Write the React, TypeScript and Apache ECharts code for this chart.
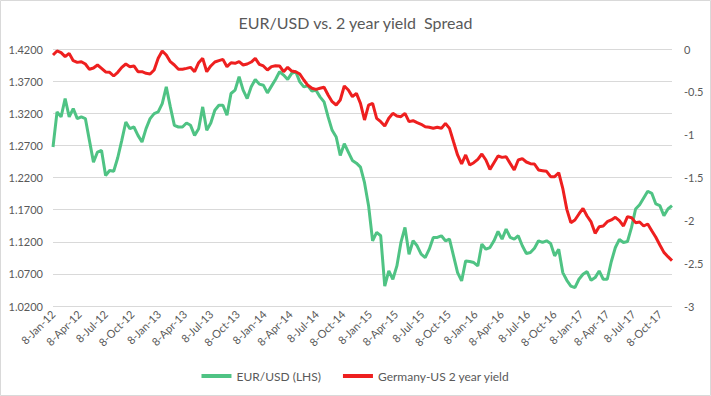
import React, { useEffect, useRef } from "react";
import * as echarts from "echarts";

// Quarterly tick labels on the date axis
const tickLabels = [
  "8-Jan-12", "8-Apr-12", "8-Jul-12", "8-Oct-12",
  "8-Jan-13", "8-Apr-13", "8-Jul-13", "8-Oct-13",
  "8-Jan-14", "8-Apr-14", "8-Jul-14", "8-Oct-14",
  "8-Jan-15", "8-Apr-15", "8-Jul-15", "8-Oct-15",
  "8-Jan-16", "8-Apr-16", "8-Jul-16", "8-Oct-16",
  "8-Jan-17", "8-Apr-17", "8-Jul-17", "8-Oct-17",
];

// EUR/USD, fortnightly observations from 8-Jan-12
const eurUsd = [
  1.2674, 1.3221, 1.3143, 1.3429, 1.3143, 1.3273, 1.3117, 1.3143, 1.3117, 1.2778,
  1.2439, 1.2596, 1.2622, 1.2231, 1.2309, 1.2298, 1.2507, 1.2778, 1.3064, 1.2960,
  1.2986, 1.2856, 1.2752, 1.2960, 1.3117, 1.3195, 1.3221, 1.3351, 1.3611, 1.3299,
  1.3012, 1.2986, 1.2986, 1.3049, 1.3012, 1.2856, 1.2960, 1.3299, 1.2934,
  1.3049, 1.3247, 1.3325, 1.3325, 1.3168, 1.3507, 1.3559, 1.3768, 1.3559, 1.3429,
  1.3611, 1.3726, 1.3653, 1.3637, 1.3517, 1.3622, 1.3726, 1.3846, 1.3794, 1.3726,
  1.3820, 1.3846, 1.3689, 1.3611, 1.3627, 1.3544, 1.3559, 1.3455, 1.3377, 1.3143,
  1.2934, 1.2830, 1.2543, 1.2726, 1.2596, 1.2465, 1.2423, 1.2361, 1.2120,
  1.1762, 1.1215, 1.1345, 1.1293, 1.0511, 1.0746, 1.0616, 1.0824, 1.1189, 1.1423,
  1.1006, 1.1215, 1.1137, 1.1006, 1.0954, 1.1084, 1.1267, 1.1267, 1.1293, 1.1215,
  1.1241, 1.0980, 1.0720, 1.0590, 1.0902, 1.0892, 1.0876, 1.0824, 1.1163, 1.1084,
  1.1110, 1.1215, 1.1360, 1.1241, 1.1397, 1.1267, 1.1241, 1.1293,
  1.1137, 1.1017, 1.1032, 1.1100, 1.1215, 1.1189, 1.1215, 1.1173, 1.0980, 1.1084,
  1.0720, 1.0600, 1.0511, 1.0485, 1.0616, 1.0694, 1.0735, 1.0600, 1.0642, 1.0746,
  1.0616, 1.0616, 1.0892, 1.1110, 1.1236, 1.1189, 1.1204, 1.1423, 1.1710, 1.1777,
  1.1882, 1.1986, 1.1954, 1.1788, 1.1762, 1.1605, 1.1710, 1.1762,
];

// Germany-US 2 year yield spread, same dates
const spread = [
  -0.070, -0.023, -0.043, -0.089, -0.051, -0.136, -0.156, -0.148, -0.175, -0.237,
  -0.222, -0.187, -0.226, -0.268, -0.272, -0.315, -0.272, -0.214, -0.175, -0.206,
  -0.198, -0.265, -0.265, -0.284, -0.292, -0.245, -0.109, -0.023, -0.070, -0.148,
  -0.187, -0.237, -0.237, -0.226, -0.214, -0.265, -0.160, -0.109, -0.265,
  -0.198, -0.152, -0.136, -0.121, -0.206, -0.160, -0.167, -0.148, -0.187, -0.175,
  -0.152, -0.109, -0.179, -0.198, -0.245, -0.206, -0.195, -0.198, -0.265, -0.214,
  -0.257, -0.265, -0.292, -0.362, -0.424, -0.459, -0.471, -0.459, -0.447, -0.537,
  -0.615, -0.654, -0.595, -0.432, -0.479, -0.556, -0.518, -0.634, -0.829,
  -0.654, -0.634, -0.809, -0.848, -0.899, -0.809, -0.751, -0.782, -0.790, -0.751,
  -0.848, -0.837, -0.860, -0.879, -0.907, -0.914, -0.926, -0.914, -0.926, -0.868,
  -0.926, -1.082, -1.237, -1.342, -1.237, -1.354, -1.327, -1.288, -1.226, -1.296,
  -1.405, -1.327, -1.249, -1.265, -1.257, -1.335, -1.412, -1.296,
  -1.280, -1.319, -1.339, -1.342, -1.412, -1.420, -1.428, -1.490, -1.490, -1.444,
  -1.626, -1.872, -2.027, -1.996, -1.926, -1.860, -1.949, -2.019, -2.152, -2.074,
  -2.066, -2.016, -1.996, -1.965, -2.004, -2.066, -1.957, -1.969, -2.027, -2.019,
  -2.066, -2.043, -2.121, -2.198, -2.288, -2.374, -2.424, -2.471,
];

const MONTHS = ["Jan", "Feb", "Mar", "Apr", "May", "Jun", "Jul", "Aug", "Sep", "Oct", "Nov", "Dec"];
const DAY = 86400000;
const START = Date.UTC(2012, 0, 8);
const dayOffset = (s: string) => {
  const [d, m, y] = s.split("-");
  return Math.round((Date.UTC(2000 + Number(y), MONTHS.indexOf(m), Number(d)) - START) / DAY);
};

const BASE = 1.02; // left axis origin
const TEXT = "#595959";
const FONT = "Lato";

export default function App() {
  const ref = useRef<HTMLDivElement>(null);
  useEffect(() => {
    document.body.style.margin = "0";
    if (!ref.current) return;
    const chart = echarts.init(ref.current, undefined, { renderer: "svg" });
    // fortnightly observation days, counted from 8-Jan-12
    const days = eurUsd.map((_, i) => 14 * i);
    const tickValues = tickLabels.map(dayOffset);
    const labelMap: Record<number, string> = {};
    tickValues.forEach((t, i) => (labelMap[t] = tickLabels[i]));

    chart.setOption({
      animation: false,
      graphic: [
        {
          type: "rect",
          shape: { x: 0.5, y: 0.5, width: 710, height: 395 },
          style: { fill: "none", stroke: "#d9d9d9", lineWidth: 1 },
          silent: true,
        },
      ],
      title: {
        text: "EUR/USD vs. 2 year yield  Spread",
        left: "center",
        top: 9,
        textStyle: { fontFamily: FONT, fontSize: 16, fontWeight: "normal", color: TEXT },
      },
      grid: { left: 53, right: 39, top: 49, bottom: 90 },
      legend: {
        top: 365,
        left: "center",
        icon: "rect",
        itemWidth: 30,
        itemHeight: 4,
        itemGap: 22,
        textStyle: { fontFamily: FONT, fontSize: 12, color: TEXT },
      },
      xAxis: {
        type: "value",
        min: 0,
        max: days[days.length - 1],
        axisLine: { show: false },
        axisTick: { show: false },
        splitLine: { show: false },
        axisLabel: {
          customValues: tickValues,
          rotate: 45,
          margin: 6,
          fontFamily: FONT,
          fontSize: 11,
          color: TEXT,
          formatter: (v: number) => labelMap[Math.round(v)] ?? "",
        },
      },
      yAxis: [
        {
          type: "value",
          min: 0,
          max: 0.4,
          interval: 0.05,
          axisLine: { show: false },
          axisTick: { show: false },
          splitLine: { lineStyle: { color: "#d9d9d9", width: 1 } },
          axisLabel: {
            margin: 10,
            fontFamily: FONT,
            fontSize: 11,
            color: TEXT,
            formatter: (v: number) => (v + BASE).toFixed(4),
          },
        },
        {
          type: "value",
          position: "right",
          min: -3,
          max: 0,
          interval: 0.5,
          axisLine: { show: false },
          axisTick: { show: false },
          splitLine: { show: false },
          axisLabel: { margin: 12, fontFamily: FONT, fontSize: 11, color: TEXT },
        },
      ],
      series: [
        {
          name: "EUR/USD (LHS)",
          type: "line",
          yAxisIndex: 0,
          showSymbol: false,
          symbol: "none",
          color: "#4fc384",
          lineStyle: { width: 3, color: "#4fc384" },
          data: days.map((d, i) => [d, eurUsd[i] - BASE]),
        },
        {
          name: "Germany-US 2 year yield",
          type: "line",
          yAxisIndex: 1,
          showSymbol: false,
          symbol: "none",
          color: "#ee1f1f",
          lineStyle: { width: 3, color: "#ee1f1f" },
          data: days.map((d, i) => [d, spread[i]]),
        },
      ],
    });
    return () => chart.dispose();
  }, []);
  return <div ref={ref} style={{ width: 711, height: 396 }} />;
}
